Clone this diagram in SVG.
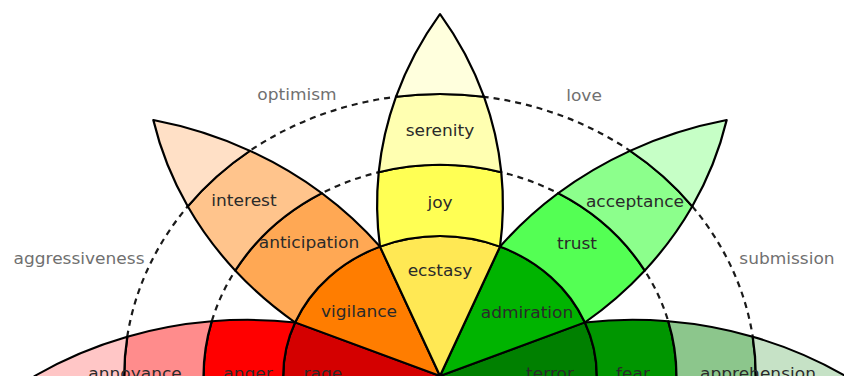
<svg xmlns="http://www.w3.org/2000/svg" width="844" height="376" viewBox="0 0 844 376">
<defs>
<style>
.seg{stroke:#000;stroke-width:2;stroke-linejoin:round;vector-effect:non-scaling-stroke}
.dash{fill:none;stroke:#1a1a1a;stroke-width:2.2;stroke-dasharray:6,5;vector-effect:non-scaling-stroke}
.lbl{font-family:"DejaVu Sans",sans-serif;font-size:15.2px;fill:#2a2a2a;text-anchor:middle}
.out{font-family:"DejaVu Sans",sans-serif;font-size:15.2px;fill:#707070;text-anchor:middle}
</style>
<path id="inner" d="M0,0 L-53.58,-129.34 A140,140 0 0,1 53.58,-129.34 Z"/>
<path id="mid" d="M-53.58,-129.34 A140,140 0 0,1 53.58,-129.34 A350,350 0 0,0 54.7,-203.8 A211,211 0 0,0 -54.7,-203.8 A350,350 0 0,0 -53.58,-129.34 Z"/>
<path id="outer" d="M-54.7,-203.8 A211,211 0 0,1 54.7,-203.8 A350,350 0 0,0 39.3,-279.2 A282,282 0 0,0 -39.3,-279.2 A350,350 0 0,0 -54.7,-203.8 Z"/>
<path id="tip" d="M-39.3,-279.2 A282,282 0 0,1 39.3,-279.2 A350,350 0 0,0 0,-362 A350,350 0 0,0 -39.3,-279.2 Z"/>
</defs>
<rect width="844" height="376" fill="#fff"/>
<g transform="translate(440,376) scale(1.12,1)">
  <g id="connectors">
    <circle class="dash" cx="0" cy="0" r="211"/>
    <circle class="dash" cx="0" cy="0" r="282"/>
  </g>
  <g id="petal-anger" transform="rotate(-90)">
    <use href="#inner" class="seg" fill="#d40000"/>
    <use href="#mid" class="seg" fill="#ff0000"/>
    <use href="#outer" class="seg" fill="#ff8c8c"/>
    <use href="#tip" class="seg" fill="#ffc6c6"/>
  </g>
  <g id="petal-fear" transform="rotate(90)">
    <use href="#inner" class="seg" fill="#008000"/>
    <use href="#mid" class="seg" fill="#009600"/>
    <use href="#outer" class="seg" fill="#8cc68c"/>
    <use href="#tip" class="seg" fill="#c6e2c6"/>
  </g>
  <g id="petal-anticipation" transform="rotate(-45)">
    <use href="#inner" class="seg" fill="#ff7d00"/>
    <use href="#mid" class="seg" fill="#ffa854"/>
    <use href="#outer" class="seg" fill="#ffc48c"/>
    <use href="#tip" class="seg" fill="#ffe0c6"/>
  </g>
  <g id="petal-trust" transform="rotate(45)">
    <use href="#inner" class="seg" fill="#00b400"/>
    <use href="#mid" class="seg" fill="#54ff54"/>
    <use href="#outer" class="seg" fill="#8cff8c"/>
    <use href="#tip" class="seg" fill="#c6ffc6"/>
  </g>
  <g id="petal-joy">
    <use href="#inner" class="seg" fill="#ffe854"/>
    <use href="#mid" class="seg" fill="#ffff54"/>
    <use href="#outer" class="seg" fill="#ffffb1"/>
    <use href="#tip" class="seg" fill="#ffffdd"/>
  </g>
</g>
<g id="labels" transform="translate(440,0) scale(1.12,1)">
  <text class="out" x="-127.7" y="100">optimism</text>
  <text class="out" x="128.6" y="101">love</text>
  <text class="out" x="-322.3" y="264">aggressiveness</text>
  <text class="out" x="309.8" y="264">submission</text>
  <text class="lbl" x="0" y="136">serenity</text>
  <text class="lbl" x="0" y="208">joy</text>
  <text class="lbl" x="0" y="276">ecstasy</text>
  <text class="lbl" x="-175" y="206">interest</text>
  <text class="lbl" x="-117" y="248">anticipation</text>
  <text class="lbl" x="-72.3" y="317">vigilance</text>
  <text class="lbl" x="174.1" y="207">acceptance</text>
  <text class="lbl" x="122.3" y="249">trust</text>
  <text class="lbl" x="77.7" y="318">admiration</text>
  <text class="lbl" x="-272.3" y="379">annoyance</text>
  <text class="lbl" x="-171.4" y="379">anger</text>
  <text class="lbl" x="-104.5" y="379">rage</text>
  <text class="lbl" x="98.2" y="379">terror</text>
  <text class="lbl" x="172.3" y="379">fear</text>
  <text class="lbl" x="283.9" y="379">apprehension</text>
</g>
</svg>
